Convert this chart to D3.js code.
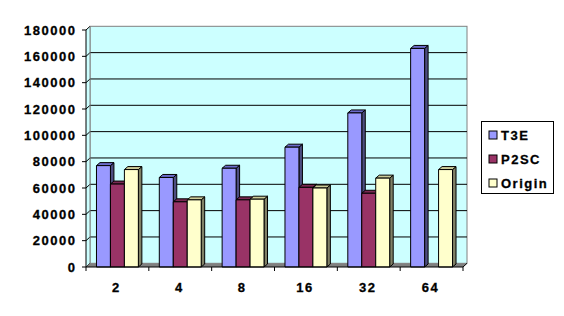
<!DOCTYPE html>
<html>
<head>
<meta charset="utf-8">
<script src="https://cdn.jsdelivr.net/npm/d3@7"></script>
<style>
  body { margin: 0; background: #fff; }
  text { font-family: "Liberation Sans", Arial, sans-serif; font-weight: bold; font-size: 13px; letter-spacing: 1.5px; stroke: #000; stroke-width: 0.3px; }
</style>
</head>
<body>
<svg id="chart"></svg>
<script>
const categories = ["2", "4", "8", "16", "32", "64"];
const seriesNames = ["T3E", "P2SC", "Origin"];
const t3e = [77000, 68000, 75000, 91000, 117000, 166000];
const p2sc = [63000, 49500, 51000, 60500, 56000, null];
const origin = [74000, 51000, 51500, 60000, 67500, 74000];
const yTicks = [0, 20000, 40000, 60000, 80000, 100000, 120000, 140000, 160000, 180000];

const seriesValues = [t3e, p2sc, origin];
const colors = {
  T3E: { front: "#9999ff", top: "#6b6bcc", side: "#4d4d80" },
  P2SC: { front: "#993366", top: "#7a2952", side: "#4d1a33" },
  Origin: { front: "#ffffcc", top: "#cccc99", side: "#808066" }
};

const width = 564, height = 316;
const svg = d3.select("#chart").attr("width", width).attr("height", height);

// 3D depth offsets (floor / wall and bar)
const dx = 4, dy = -3.7;
const bdx = 3.5, bdy = -3;

const x = d3.scaleBand().domain(categories).range([86, 463]).paddingInner(0).paddingOuter(0);
const groupPad = x.bandwidth() * (1.5 / 4.5) / 2;
const xs = d3.scaleBand().domain(seriesNames)
  .range([groupPad, x.bandwidth() - groupPad]);
const y = d3.scaleLinear().domain([0, 180000]).range([267, 30]);

const x0 = x.range()[0], x1 = x.range()[1];
const yTop = y(180000), yBot = y(0);

// back wall
svg.append("rect")
  .attr("x", x0 + dx).attr("y", yTop + dy)
  .attr("width", x1 - x0).attr("height", yBot - yTop)
  .attr("fill", "#ccffff").attr("stroke", "#808080");

// left side wall
svg.append("path")
  .attr("d", `M${x0},${yTop}L${x0 + dx},${yTop + dy}L${x0 + dx},${yBot + dy}L${x0},${yBot}Z`)
  .attr("fill", "#ccffff").attr("stroke", "none");

// gridlines on the back wall + diagonals on the side wall
const grid = svg.append("g").attr("stroke", "#000").attr("fill", "none");
yTicks.forEach(v => {
  const yy = y(v);
  if (v > 0 && v < 180000) {
    grid.append("line")
      .attr("x1", x0 + dx).attr("x2", x1 + dx)
      .attr("y1", yy + dy).attr("y2", yy + dy);
  }
  grid.append("line")
    .attr("x1", x0).attr("y1", yy)
    .attr("x2", x0 + dx).attr("y2", yy + dy);
});
svg.append("line")
  .attr("x1", x0 + dx).attr("x2", x0 + dx)
  .attr("y1", yTop + dy).attr("y2", yBot + dy)
  .attr("stroke", "#808080");

// floor
svg.append("path")
  .attr("d", `M${x0},${yBot}L${x1},${yBot}L${x1 + dx},${yBot + dy}L${x0 + dx},${yBot + dy}Z`)
  .attr("fill", "#808080");

// bars
const bars = svg.append("g").attr("stroke", "#000").attr("stroke-width", 1).attr("stroke-linejoin", "round");
categories.forEach((c, i) => {
  seriesNames.forEach((s, j) => {
    const v = seriesValues[j][i];
    if (v == null) return;
    const bx = x(c) + xs(s);
    const bw = xs.bandwidth();
    const by = y(v);
    const col = colors[s];
    const g = bars.append("g");
    g.append("path")
      .attr("d", `M${bx + bw},${by}L${bx + bw + bdx},${by + bdy}L${bx + bw + bdx},${yBot + bdy}L${bx + bw},${yBot}Z`)
      .attr("fill", col.side);
    g.append("path")
      .attr("d", `M${bx},${by}L${bx + bdx},${by + bdy}L${bx + bw + bdx},${by + bdy}L${bx + bw},${by}Z`)
      .attr("fill", col.top);
    g.append("rect")
      .attr("x", bx).attr("y", by)
      .attr("width", bw).attr("height", yBot - by)
      .attr("fill", col.front);
  });
});

// front axes
const axes = svg.append("g").attr("stroke", "#000").attr("fill", "none");
axes.append("line").attr("x1", x0).attr("x2", x0).attr("y1", yTop).attr("y2", yBot);
axes.append("line").attr("x1", x0).attr("x2", x1).attr("y1", yBot).attr("y2", yBot);
axes.append("line").attr("x1", x1).attr("y1", yBot).attr("x2", x1 + dx).attr("y2", yBot + dy);
yTicks.forEach(v => {
  axes.append("line").attr("x1", x0 - 4).attr("x2", x0).attr("y1", y(v)).attr("y2", y(v));
});
categories.concat([null]).forEach((c, i) => {
  const xx = c == null ? x1 : x(c);
  axes.append("line").attr("x1", xx).attr("x2", xx).attr("y1", yBot).attr("y2", yBot + 4);
});

// y tick labels
svg.append("g").selectAll("text").data(yTicks).join("text")
  .attr("x", 76.5).attr("y", d => y(d))
  .attr("dy", "0.36em")
  .attr("text-anchor", "end")
  .text(d => d);

// category labels
svg.append("g").selectAll("text").data(categories).join("text")
  .attr("x", d => x(d) + x.bandwidth() / 2 - 1)
  .attr("y", 291.5)
  .attr("text-anchor", "middle")
  .text(d => d);

// legend
const legend = svg.append("g").attr("transform", "translate(481.5,121.5)");
legend.append("rect").attr("width", 72).attr("height", 72)
  .attr("fill", "#fff").attr("stroke", "#000");
seriesNames.forEach((s, i) => {
  const ly = 13.5 + i * 24;
  legend.append("rect")
    .attr("x", 7.5).attr("y", ly - 4)
    .attr("width", 8).attr("height", 8)
    .attr("fill", colors[s].front).attr("stroke", "#000");
  legend.append("text")
    .attr("x", 19.5).attr("y", ly)
    .attr("dy", "0.36em")
    .text(s);
});
</script>
</body>
</html>
